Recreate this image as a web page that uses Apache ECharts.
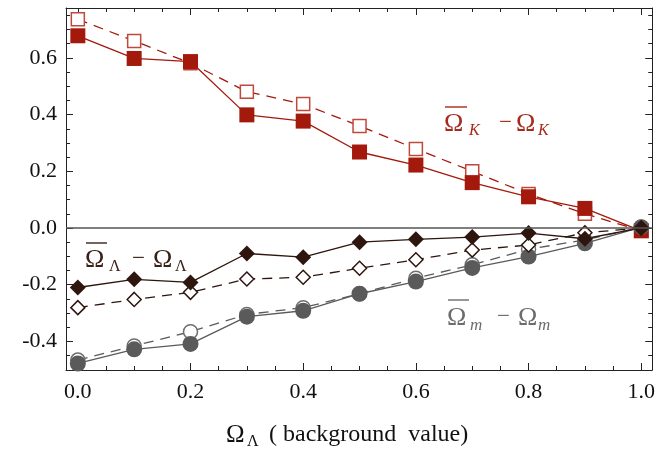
<!DOCTYPE html>
<html><head><meta charset="utf-8">
<script src="https://cdn.jsdelivr.net/npm/echarts@6/dist/echarts.min.js"></script>
<style>html,body{margin:0;padding:0;background:#fff}#c{width:658px;height:452px}</style>
</head><body><div id="c"></div>
<script>
const xs = [0.0, 0.1, 0.2, 0.3, 0.4, 0.5, 0.6, 0.7, 0.8, 0.9, 1.0];
const kFilled = [0.678, 0.598, 0.587, 0.399, 0.377, 0.268, 0.222, 0.160, 0.110, 0.069, -0.010];
const kOpen   = [0.736, 0.660, 0.581, 0.481, 0.437, 0.360, 0.279, 0.200, 0.120, 0.050, -0.010];
const lamFilled = [-0.210, -0.181, -0.192, -0.090, -0.103, -0.050, -0.040, -0.032, -0.018, -0.038, 0.000];
const lamOpen   = [-0.281, -0.252, -0.227, -0.180, -0.174, -0.142, -0.112, -0.078, -0.060, -0.017, 0.000];
const mFilled = [-0.478, -0.428, -0.409, -0.313, -0.292, -0.232, -0.189, -0.141, -0.101, -0.054, 0.003];
const mOpen   = [-0.466, -0.416, -0.366, -0.305, -0.281, -0.232, -0.177, -0.130, -0.075, -0.042, 0.003];

const xMajorTicks = [0.0, 0.2, 0.4, 0.6, 0.8, 1.0];
const xMinorTicks = [0.05, 0.1, 0.15, 0.25, 0.3, 0.35, 0.45, 0.5, 0.55, 0.65, 0.7, 0.75, 0.85, 0.9, 0.95];
const yMajorTicks = [-0.4, -0.2, 0.0, 0.2, 0.4, 0.6];
const yMinorTicks = [-0.45, -0.35, -0.3, -0.25, -0.15, -0.1, -0.05, 0.05, 0.1, 0.15, 0.25, 0.3, 0.35, 0.45, 0.5, 0.55, 0.65, 0.7, 0.75];

const X_MIN = -0.021, X_MAX = 1.0195, Y_MIN = -0.501, Y_MAX = 0.776;
const FONT = '"Liberation Serif", "Times New Roman", serif';
const FRAME = '#222';
const RED = '#a3190c', RED_OPEN = '#c0493e', BROWN = '#2e150d', GREY = '#5a5a5a', GREY_OPEN = '#6e6e6e';

const pairs = ys => xs.map((x, i) => [x, ys[i]]);

function xAx(pos, ticks, len, labels, line) {
  return { type: 'value', position: pos, min: X_MIN, max: X_MAX,
    axisLine: { show: line, onZero: false, lineStyle: { color: FRAME, width: 1 } },
    axisTick: { show: true, inside: true, length: len, customValues: ticks, lineStyle: { color: FRAME, width: 1 } },
    axisLabel: labels ? { show: true, customValues: ticks, formatter: v => v.toFixed(1), fontFamily: FONT, fontSize: 22, color: '#111', margin: 11 } : { show: false },
    splitLine: { show: false } };
}
function yAx(pos, ticks, len, labels, line) {
  return { type: 'value', position: pos, min: Y_MIN, max: Y_MAX,
    axisLine: { show: line, onZero: false, lineStyle: { color: FRAME, width: 1 } },
    axisTick: { show: true, inside: true, length: len, customValues: ticks, lineStyle: { color: FRAME, width: 1 } },
    axisLabel: labels ? { show: true, customValues: ticks, formatter: v => v.toFixed(1), fontFamily: FONT, fontSize: 22, color: '#111', margin: 9 } : { show: false },
    splitLine: { show: false } };
}

function ser(name, ys, symbol, size, color, dashed, lineColor, border) {
  return { name, type: 'line', xAxisIndex: 0, yAxisIndex: 0, data: pairs(ys),
    symbol, symbolSize: size, showSymbol: true, animation: false,
    lineStyle: { color: lineColor, width: 1.3, type: dashed ? [10, 7] : 'solid' },
    itemStyle: border ? { color: '#fff', borderColor: color, borderWidth: 1.5 } : { color: color, borderWidth: 0 } };
}

const series = [
  ser('kOpen', kOpen, 'rect', 13, RED_OPEN, true, RED, true),
  ser('kFilled', kFilled, 'rect', 15, RED, false, RED, false),
  ser('mOpen', mOpen, 'circle', 14, GREY_OPEN, true, GREY, true),
  ser('mFilled', mFilled, 'circle', 16, GREY, false, GREY, false),
  ser('lamOpen', lamOpen, 'diamond', 14, BROWN, true, BROWN, true),
  ser('lamFilled', lamFilled, 'diamond', 16, BROWN, false, BROWN, false)
];
series[0].markLine = { silent: true, symbol: 'none', label: { show: false },
  lineStyle: { color: '#555', width: 1.5, type: 'solid' }, data: [{ yAxis: 0 }] };

function lbl(x, y, text, size, color, italic) {
  return { type: 'text', x, y, silent: true,
    style: { text, fill: color, font: (italic ? 'italic ' : '') + size + 'px ' + FONT, textAlign: 'left', textVerticalAlign: 'middle' } };
}
function bar(x1, x2, y, color) {
  return { type: 'line', silent: true, shape: { x1, y1: y, x2, y2: y }, style: { stroke: color, lineWidth: 1.4 } };
}
const KC = '#a52a1c', LC = '#3a2118', MC = '#6c6c6c';
const graphic = [
  bar(445, 467, 107, KC), lbl(444, 124, 'Ω', 26, KC), lbl(469, 131, 'K', 16, KC, true),
  lbl(499, 123, '−', 23, KC), lbl(516, 124, 'Ω', 26, KC), lbl(538, 131, 'K', 16, KC, true),
  bar(86, 107, 243, LC), lbl(85, 260, 'Ω', 26, LC), lbl(109, 267, 'Λ', 16, LC),
  lbl(132, 259, '−', 23, LC), lbl(153, 260, 'Ω', 26, LC), lbl(175, 267, 'Λ', 16, LC),
  bar(448, 469, 300, MC), lbl(447, 318, 'Ω', 26, MC), lbl(470, 326, 'm', 17, MC, true),
  lbl(497, 317, '−', 23, MC), lbl(518, 318, 'Ω', 26, MC), lbl(538, 326, 'm', 17, MC, true),
  lbl(226, 435, 'Ω', 25, '#111'), lbl(247, 442, 'Λ', 16, '#111'),
  lbl(269, 435, '( background  value)', 24, '#111')
];

const chart = echarts.init(document.getElementById('c'), null, { renderer: 'canvas' });
chart.setOption({
  backgroundColor: '#fff',
  animation: false,
  grid: { left: 66, right: 5, top: 8, bottom: 82, containLabel: false },
  xAxis: [xAx('bottom', xMajorTicks, 7, true, true), xAx('bottom', xMinorTicks, 4, false, false),
          xAx('top', xMajorTicks, 7, false, true), xAx('top', xMinorTicks, 4, false, false)],
  yAxis: [yAx('left', yMajorTicks, 7, true, true), yAx('left', yMinorTicks, 4, false, false),
          yAx('right', yMajorTicks, 7, false, true), yAx('right', yMinorTicks, 4, false, false)],
  series,
  graphic
});
</script></body></html>
